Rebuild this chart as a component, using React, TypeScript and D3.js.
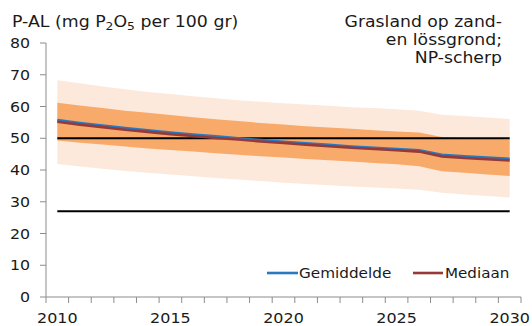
import React from "react";
import * as d3 from "d3";

const years = d3.range(2010, 2031).map(String);
const outerUpper = [68.3, 67.3, 66.3, 65.4, 64.6, 63.9, 63.2, 62.6, 62.0, 61.5, 61.0, 60.6, 60.2, 59.8, 59.5, 59.1, 58.7, 57.4, 57.0, 56.5, 56.1];
const innerUpper = [61.2, 60.3, 59.5, 58.7, 58.0, 57.3, 56.6, 56.0, 55.4, 54.8, 54.3, 53.8, 53.4, 53.0, 52.5, 52.1, 51.8, 50.4, 50.1, 49.9, 49.7];
const mean = [55.7, 54.8, 54.0, 53.2, 52.5, 51.8, 51.2, 50.6, 50.0, 49.4, 48.9, 48.4, 47.9, 47.4, 47.0, 46.6, 46.2, 44.8, 44.3, 43.9, 43.5];
const median = [55.2, 54.3, 53.5, 52.7, 52.0, 51.3, 50.7, 50.1, 49.6, 49.0, 48.5, 48.0, 47.5, 47.0, 46.6, 46.2, 45.8, 44.3, 43.8, 43.4, 43.0];
const innerLower = [49.3, 48.6, 48.0, 47.4, 46.8, 46.3, 45.8, 45.3, 44.8, 44.3, 43.9, 43.5, 43.1, 42.7, 42.2, 41.8, 41.2, 39.6, 39.1, 38.6, 38.1];
const outerLower = [41.9, 41.1, 40.4, 39.7, 39.1, 38.6, 38.0, 37.5, 37.0, 36.5, 36.0, 35.6, 35.2, 34.8, 34.5, 34.2, 33.8, 32.8, 32.3, 31.8, 31.3];
const refLines = [50, 27];
const yTicks = [0, 10, 20, 30, 40, 50, 60, 70, 80];
const xLabels = ["2010", "2015", "2020", "2025", "2030"];
const titleNote = ["Grasland op zand-", "en lössgrond;", "NP-scherp"];

const textColor = "#1a1a1a";

function T(props: { x: number; y: number; fs: number; sx: number; anchor?: string; children: React.ReactNode }) {
  const { x, y, fs, sx, anchor, children } = props;
  return (
    <text transform={`translate(${x},${y}) scale(${sx},1)`} textAnchor={anchor || "start"} fontSize={fs} fill={textColor}>
      {children}
    </text>
  );
}

export default function App() {
  const W = 532, H = 326;
  const x = d3.scaleBand<string>().domain(years).range([46, 521]).padding(0);
  const cx = (i: number) => (x(years[i]) as number) + x.bandwidth() / 2;
  const y = d3.scaleLinear().domain([0, 80]).range([297, 43]);
  const idx = d3.range(years.length);

  const band = (lo: number[], hi: number[]) =>
    d3.area<number>().x((i) => cx(i)).y0((i) => y(lo[i])).y1((i) => y(hi[i]))(idx) as string;
  const line = (v: number[]) => d3.line<number>().x((i) => cx(i)).y((i) => y(v[i]))(idx) as string;

  const font = "'DejaVu Sans', Verdana, sans-serif";
  const axisColor = "#8c8c8c";

  return (
    <svg width={W} height={H} style={{ position: "absolute", left: 0, top: 0 }} fontFamily={font}>
      <rect width={W} height={H} fill="#ffffff" />
      <path d={band(outerLower, outerUpper)} fill="#fde9db" />
      <path d={band(innerLower, innerUpper)} fill="#f8aa6a" />
      {refLines.map((v) => (
        <line key={v} x1={cx(0)} x2={cx(years.length - 1)} y1={y(v)} y2={y(v)} stroke="#000" strokeWidth={2} />
      ))}
      <path d={line(mean)} fill="none" stroke="#2a79c0" strokeWidth={2.6} />
      <path d={line(median)} fill="none" stroke="#953a38" strokeWidth={2.6} />

      {/* y axis */}
      <line x1={46} x2={46} y1={y(80)} y2={y(0)} stroke={axisColor} strokeWidth={1} />
      {yTicks.map((t) => (
        <g key={t}>
          <line x1={40} x2={46} y1={y(t)} y2={y(t)} stroke={axisColor} />
          <T x={30} y={y(t) + 5} fs={14} sx={1.13} anchor="end">{t}</T>
        </g>
      ))}
      {/* x axis */}
      <line x1={46} x2={521} y1={y(0)} y2={y(0)} stroke={axisColor} />
      {years.map((yr) => (
        <line key={yr} x1={x(yr) as number} x2={x(yr) as number} y1={y(0)} y2={y(0) + 6} stroke={axisColor} />
      ))}
      <line x1={521} x2={521} y1={y(0)} y2={y(0) + 6} stroke={axisColor} />
      {xLabels.map((l) => (
        <T key={l} x={cx(years.indexOf(l))} y={322.5} fs={14} sx={1.14} anchor="middle">{l}</T>
      ))}

      {/* title */}
      <T x={12} y={27} fs={15.5} sx={1.12}>
        P-AL (mg P<tspan fontSize={11} dy={3}>2</tspan><tspan dy={-3}>O</tspan><tspan fontSize={11} dy={3}>5</tspan><tspan dy={-3}> per 100 gr)</tspan>
      </T>
      {titleNote.map((t, i) => (
        <T key={t} x={502} y={27 + i * 18} fs={15} sx={1.15} anchor="end">{t}</T>
      ))}

      {/* legend */}
      <line x1={267} x2={298} y1={273} y2={273} stroke="#2a79c0" strokeWidth={2.6} />
      <T x={299} y={278} fs={14} sx={1.09}>Gemiddelde</T>
      <line x1={413} x2={443} y1={273} y2={273} stroke="#953a38" strokeWidth={2.6} />
      <T x={445} y={278} fs={14} sx={1.08}>Mediaan</T>
    </svg>
  );
}
